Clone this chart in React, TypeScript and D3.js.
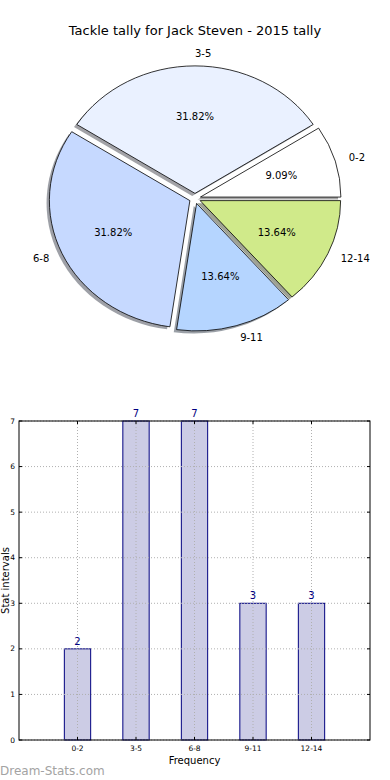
import React from "react";
import * as d3 from "d3";

const categories = ["0-2", "3-5", "6-8", "9-11", "12-14"];
const values = [2, 7, 7, 3, 3];
const sliceColors = ["#ffffff", "#eaf1ff", "#c6d9ff", "#b5d5ff", "#d0ea8a"];
const yTicks = [0, 1, 2, 3, 4, 5, 6, 7];
const titleText = "Tackle tally for Jack Steven - 2015 tally";

const W = 390;
const H = 780;
const FONT = "DejaVu Sans, sans-serif";

export default function App() {
  const cx = 195;
  const cy = 198.5;
  const rx = 140.5;
  const ry = 127.5;
  const explode = 0.04;
  const k = ry / rx;

  const pie = d3
    .pie<number>()
    .sort(null)
    .value((d) => d)
    .startAngle(Math.PI / 2)
    .endAngle(Math.PI / 2 - 2 * Math.PI);
  const arcs = pie(values);
  const arcGen = d3.arc<any>().innerRadius(0).outerRadius(rx);
  const total = d3.sum(values);

  const sliceInfo = arcs.map((a, i) => {
    const mid = (a.startAngle + a.endAngle) / 2;
    const sx = Math.sin(mid);
    const sy = -Math.cos(mid);
    const ox = explode * rx * sx;
    const oy = explode * rx * sy;
    return { a, i, mid, sx, sy, ox, oy };
  });

  const shadowColor = (c: string) => {
    const col = d3.rgb(c);
    return d3.rgb(col.r * 0.3, col.g * 0.3, col.b * 0.3).toString();
  };

  const left = 19;
  const right = 370;
  const top = 421;
  const bottom = 740;
  const x = d3.scaleLinear().domain([-1, categories.length]).range([left, right]);
  const y = d3.scaleLinear().domain([0, 7]).range([bottom, top]);
  const barW = x(0.45) - x(0);

  return (
    <svg
      width={W}
      height={H}
      style={{ position: "absolute", left: 0, top: 0, background: "#fff" }}
      fontFamily={FONT}
    >
      <defs>
        <filter id="blur" x="-10%" y="-10%" width="120%" height="120%">
          <feGaussianBlur stdDeviation="0.7" />
        </filter>
      </defs>
      <rect x={0} y={0} width={W} height={H} fill="#fff" />
      <text x={W / 2} y={34.5} textAnchor="middle" fontSize={13} fill="#000">
        {titleText}
      </text>

      <g transform={`translate(${cx},${cy}) scale(1,${k})`}>
        {sliceInfo.map((s) => (
          <path
            key={"sh" + s.i}
            d={arcGen(s.a) as string}
            transform={`translate(${s.ox - 0.02 * rx},${s.oy + 0.02 * rx})`}
            fill={shadowColor(sliceColors[s.i])}
            fillOpacity={0.5}
            filter="url(#blur)"
          />
        ))}
        {sliceInfo.map((s) => (
          <path
            key={"sl" + s.i}
            d={arcGen(s.a) as string}
            transform={`translate(${s.ox},${s.oy})`}
            fill={sliceColors[s.i]}
            stroke="#000"
            strokeWidth={0.8}
            vectorEffect="non-scaling-stroke"
          />
        ))}
      </g>
      {sliceInfo.map((s) => {
        const ex = cx + s.ox;
        const ey = cy + s.oy * k;
        const lx = ex + 1.1 * rx * s.sx;
        const ly = ey + 1.1 * ry * s.sy;
        const px = ex + 0.6 * rx * s.sx;
        const py = ey + 0.6 * ry * s.sy;
        const pct = ((values[s.i] / total) * 100).toFixed(2) + "%";
        return (
          <g key={"lb" + s.i}>
            <text
              x={lx}
              y={ly}
              dy="0.35em"
              textAnchor={s.sx > -1e-9 ? "start" : "end"}
              fontSize={10}
              fill="#000"
            >
              {categories[s.i]}
            </text>
            <text x={px} y={py} dy="0.35em" textAnchor="middle" fontSize={10} fill="#000">
              {pct}
            </text>
          </g>
        );
      })}

      {categories.map((c, i) => (
        <rect
          key={"b" + i}
          x={x(i) - barW / 2}
          y={y(values[i])}
          width={barW}
          height={y(0) - y(values[i])}
          fill="#ccccE5"
          stroke="#000080"
          strokeWidth={1}
        />
      ))}
      {yTicks.map((t) => (
        <line
          key={"gy" + t}
          x1={left}
          x2={right}
          y1={y(t)}
          y2={y(t)}
          stroke="#b0b0b0"
          strokeWidth={1}
          strokeDasharray="1,2"
        />
      ))}
      {categories.map((c, i) => (
        <line
          key={"gx" + i}
          x1={x(i)}
          x2={x(i)}
          y1={top}
          y2={bottom}
          stroke="#b0b0b0"
          strokeWidth={1}
          strokeDasharray="1,2"
        />
      ))}
      {categories.map((c, i) => (
        <text
          key={"v" + i}
          x={x(i)}
          y={y(values[i]) - 4}
          textAnchor="middle"
          fontSize={10}
          fill="#000080"
        >
          {values[i]}
        </text>
      ))}
      <rect x={left} y={top} width={right - left} height={bottom - top} fill="none" stroke="#000" strokeWidth={1} />
      {yTicks.map((t) => (
        <g key={"ty" + t}>
          <line x1={left} x2={left + 3} y1={y(t)} y2={y(t)} stroke="#000" />
          <line x1={right} x2={right - 3} y1={y(t)} y2={y(t)} stroke="#000" />
          <text x={left - 4} y={y(t)} dy="0.35em" textAnchor="end" fontSize={7.5} fill="#000">
            {t}
          </text>
        </g>
      ))}
      {categories.map((c, i) => (
        <g key={"tx" + i}>
          <line x1={x(i)} x2={x(i)} y1={bottom} y2={bottom - 3} stroke="#000" />
          <line x1={x(i)} x2={x(i)} y1={top} y2={top + 3} stroke="#000" />
          <text x={x(i)} y={bottom + 11} textAnchor="middle" fontSize={7.5} fill="#000">
            {c}
          </text>
        </g>
      ))}
      <text x={(left + right) / 2} y={764} textAnchor="middle" fontSize={10} fill="#000">
        Frequency
      </text>
      <text
        transform={`translate(8.5,${(top + bottom) / 2}) rotate(-90)`}
        textAnchor="middle"
        fontSize={10}
        fill="#000"
      >
        Stat intervals
      </text>
      <text x={0} y={775} fontSize={12} fill="#a3a3a3">
        Dream-Stats.com
      </text>
    </svg>
  );
}
